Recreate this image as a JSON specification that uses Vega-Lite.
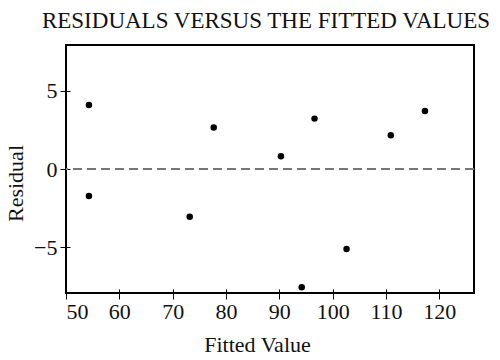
{
  "$schema": "https://vega.github.io/schema/vega-lite/v6.json",
  "width": 408,
  "height": 248,
  "autosize": "none",
  "padding": {"left": 66, "top": 45, "right": 26, "bottom": 67},
  "background": "white",
  "title": {
    "text": "RESIDUALS VERSUS THE FITTED VALUES",
    "font": "Liberation Serif",
    "fontSize": 23,
    "fontWeight": "normal",
    "color": "#111",
    "anchor": "middle",
    "dx": -4,
    "offset": 12
  },
  "config": {
    "view": {"stroke": "black", "strokeWidth": 2},
    "axis": {
      "grid": false,
      "domain": false,
      "tickColor": "black",
      "tickWidth": 1,
      "tickSize": 10,
      "offset": -4,
      "labelFont": "Liberation Serif",
      "labelFontSize": 22,
      "labelColor": "#111",
      "titleFont": "Liberation Serif",
      "titleFontSize": 22,
      "titleFontWeight": "normal",
      "titleColor": "#111"
    }
  },
  "data": {
    "values": [
      {"fitted": 54.3, "residual": 4.08},
      {"fitted": 54.3, "residual": -1.72},
      {"fitted": 73.2, "residual": -3.04},
      {"fitted": 77.7, "residual": 2.64},
      {"fitted": 90.3, "residual": 0.81},
      {"fitted": 96.6, "residual": 3.21},
      {"fitted": 94.2, "residual": -7.53},
      {"fitted": 102.6, "residual": -5.1},
      {"fitted": 110.9, "residual": 2.15},
      {"fitted": 117.3, "residual": 3.7}
    ]
  },
  "layer": [
    {
      "mark": {"type": "rule", "color": "#777", "strokeWidth": 1.5, "strokeDash": [9, 5]},
      "encoding": {
        "y": {"datum": 0, "type": "quantitative"}
      }
    },
    {
      "mark": {"type": "point", "filled": true, "color": "black", "opacity": 1, "size": 42},
      "encoding": {
        "x": {
          "field": "fitted",
          "type": "quantitative",
          "scale": {"domain": [50, 126.5], "nice": false, "zero": false},
          "axis": {"values": [50, 60, 70, 80, 90, 100, 110, 120], "title": "Fitted Value", "labelPadding": 2, "titlePadding": 12, "titleX": 191}
        },
        "y": {
          "field": "residual",
          "type": "quantitative",
          "scale": {"domain": [-7.9, 7.9], "nice": false},
          "axis": {"values": [-5, 0, 5], "title": "Residual", "labelPadding": 3, "titlePadding": 6, "titleY": 138}
        }
      }
    }
  ]
}
